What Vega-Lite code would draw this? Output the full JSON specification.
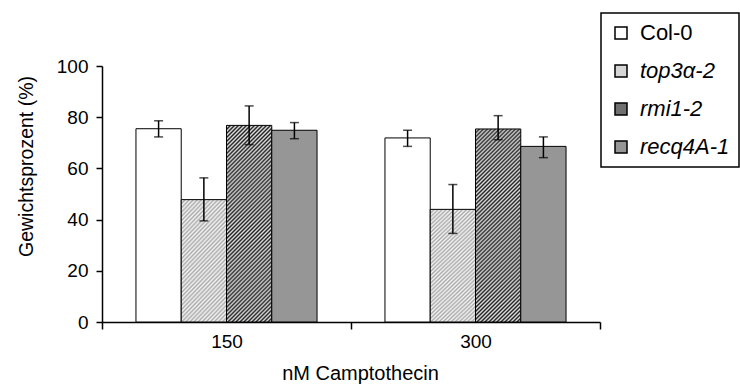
{
  "$schema": "https://vega.github.io/schema/vega-lite/v6.json",
  "autosize": {"type": "none"},
  "padding": {"left": 102, "top": 66, "right": 140, "bottom": 65},
  "width": 498,
  "height": 256,
  "background": "white",
  "config": {
    "font": "Liberation Sans",
    "view": {"stroke": null}
  },
  "data": {
    "values": [
      {"dose": "150", "genotype": "Col-0", "mean": 75.5, "lo": 72.3, "hi": 78.6},
      {"dose": "150", "genotype": "top3α-2", "mean": 47.8, "lo": 39.5, "hi": 56.3},
      {"dose": "150", "genotype": "rmi1-2", "mean": 76.8, "lo": 69.3, "hi": 84.4},
      {"dose": "150", "genotype": "recq4A-1", "mean": 74.9, "lo": 71.6, "hi": 77.9},
      {"dose": "300", "genotype": "Col-0", "mean": 71.9, "lo": 68.6, "hi": 74.9},
      {"dose": "300", "genotype": "top3α-2", "mean": 44.0, "lo": 34.6, "hi": 53.7},
      {"dose": "300", "genotype": "rmi1-2", "mean": 75.4, "lo": 71.2, "hi": 80.6},
      {"dose": "300", "genotype": "recq4A-1", "mean": 68.6, "lo": 64.2, "hi": 72.3}
    ]
  },
  "encoding": {
    "x": {
      "field": "dose", "type": "nominal",
      "scale": {"paddingInner": 0, "paddingOuter": 0},
      "axis": {
        "title": "nM Camptothecin",
        "titleFontSize": 20, "titleFontWeight": "normal", "titleColor": "black",
        "titlePadding": 12, "titleX": 258, "titleAlign": "center",
        "labelAngle": 0, "labelFontSize": 19, "labelColor": "black", "labelPadding": 3,
        "tickBand": "extent", "tickSize": 7, "tickWidth": 1.5, "tickColor": "black",
        "domainColor": "black", "domainWidth": 1.5
      }
    },
    "xOffset": {
      "field": "genotype", "type": "nominal",
      "sort": ["Col-0", "top3α-2", "rmi1-2", "recq4A-1"],
      "scale": {"paddingInner": 0, "paddingOuter": 0.75}
    }
  },
  "layer": [
    {
      "mark": {"type": "bar", "stroke": "black", "strokeWidth": 1},
      "encoding": {
        "y": {
          "field": "mean", "type": "quantitative",
          "scale": {"domain": [0, 100], "nice": false},
          "axis": {
            "title": "Gewichtsprozent (%)",
            "titleFontSize": 19.5, "titleFontWeight": "normal", "titleColor": "black",
            "titleX": -76, "titleY": 100, "titleBaseline": "middle", "titleAngle": -90, "titleAlign": "center",
            "values": [0, 20, 40, 60, 80, 100],
            "labelFontSize": 19, "labelColor": "black", "labelPadding": 8,
            "tickSize": 6, "tickWidth": 1.5, "tickColor": "black",
            "domainColor": "black", "domainWidth": 1.5,
            "grid": false
          }
        },
        "fill": {
          "field": "genotype", "type": "nominal",
          "sort": ["Col-0", "top3α-2", "rmi1-2", "recq4A-1"],
          "scale": {
            "domain": ["Col-0", "top3α-2", "rmi1-2", "recq4A-1"],
            "range": ["#ffffff", "#d6d6d6", "#707070", "#969696"]
          },
          "condition": [
            {
              "test": "datum.genotype === 'rmi1-2'",
              "value": {
                "gradient": "linear", "x1": 0, "y1": 0, "x2": 0.272, "y2": 1.17,
                "stops": [
                  {"offset": 0, "color": "#222"}, {"offset": 0.00833, "color": "#ddd"}, {"offset": 0.01667, "color": "#222"},
                  {"offset": 0.025, "color": "#ddd"}, {"offset": 0.03333, "color": "#222"}, {"offset": 0.04167, "color": "#ddd"},
                  {"offset": 0.05, "color": "#222"}, {"offset": 0.05833, "color": "#ddd"}, {"offset": 0.06667, "color": "#222"},
                  {"offset": 0.075, "color": "#ddd"}, {"offset": 0.08333, "color": "#222"}, {"offset": 0.09167, "color": "#ddd"},
                  {"offset": 0.1, "color": "#222"}, {"offset": 0.10833, "color": "#ddd"}, {"offset": 0.11667, "color": "#222"},
                  {"offset": 0.125, "color": "#ddd"}, {"offset": 0.13333, "color": "#222"}, {"offset": 0.14167, "color": "#ddd"},
                  {"offset": 0.15, "color": "#222"}, {"offset": 0.15833, "color": "#ddd"}, {"offset": 0.16667, "color": "#222"},
                  {"offset": 0.175, "color": "#ddd"}, {"offset": 0.18333, "color": "#222"}, {"offset": 0.19167, "color": "#ddd"},
                  {"offset": 0.2, "color": "#222"}, {"offset": 0.20833, "color": "#ddd"}, {"offset": 0.21667, "color": "#222"},
                  {"offset": 0.225, "color": "#ddd"}, {"offset": 0.23333, "color": "#222"}, {"offset": 0.24167, "color": "#ddd"},
                  {"offset": 0.25, "color": "#222"}, {"offset": 0.25833, "color": "#ddd"}, {"offset": 0.26667, "color": "#222"},
                  {"offset": 0.275, "color": "#ddd"}, {"offset": 0.28333, "color": "#222"}, {"offset": 0.29167, "color": "#ddd"},
                  {"offset": 0.3, "color": "#222"}, {"offset": 0.30833, "color": "#ddd"}, {"offset": 0.31667, "color": "#222"},
                  {"offset": 0.325, "color": "#ddd"}, {"offset": 0.33333, "color": "#222"}, {"offset": 0.34167, "color": "#ddd"},
                  {"offset": 0.35, "color": "#222"}, {"offset": 0.35833, "color": "#ddd"}, {"offset": 0.36667, "color": "#222"},
                  {"offset": 0.375, "color": "#ddd"}, {"offset": 0.38333, "color": "#222"}, {"offset": 0.39167, "color": "#ddd"},
                  {"offset": 0.4, "color": "#222"}, {"offset": 0.40833, "color": "#ddd"}, {"offset": 0.41667, "color": "#222"},
                  {"offset": 0.425, "color": "#ddd"}, {"offset": 0.43333, "color": "#222"}, {"offset": 0.44167, "color": "#ddd"},
                  {"offset": 0.45, "color": "#222"}, {"offset": 0.45833, "color": "#ddd"}, {"offset": 0.46667, "color": "#222"},
                  {"offset": 0.475, "color": "#ddd"}, {"offset": 0.48333, "color": "#222"}, {"offset": 0.49167, "color": "#ddd"},
                  {"offset": 0.5, "color": "#222"}, {"offset": 0.50833, "color": "#ddd"}, {"offset": 0.51667, "color": "#222"},
                  {"offset": 0.525, "color": "#ddd"}, {"offset": 0.53333, "color": "#222"}, {"offset": 0.54167, "color": "#ddd"},
                  {"offset": 0.55, "color": "#222"}, {"offset": 0.55833, "color": "#ddd"}, {"offset": 0.56667, "color": "#222"},
                  {"offset": 0.575, "color": "#ddd"}, {"offset": 0.58333, "color": "#222"}, {"offset": 0.59167, "color": "#ddd"},
                  {"offset": 0.6, "color": "#222"}, {"offset": 0.60833, "color": "#ddd"}, {"offset": 0.61667, "color": "#222"},
                  {"offset": 0.625, "color": "#ddd"}, {"offset": 0.63333, "color": "#222"}, {"offset": 0.64167, "color": "#ddd"},
                  {"offset": 0.65, "color": "#222"}, {"offset": 0.65833, "color": "#ddd"}, {"offset": 0.66667, "color": "#222"},
                  {"offset": 0.675, "color": "#ddd"}, {"offset": 0.68333, "color": "#222"}, {"offset": 0.69167, "color": "#ddd"},
                  {"offset": 0.7, "color": "#222"}, {"offset": 0.70833, "color": "#ddd"}, {"offset": 0.71667, "color": "#222"},
                  {"offset": 0.725, "color": "#ddd"}, {"offset": 0.73333, "color": "#222"}, {"offset": 0.74167, "color": "#ddd"},
                  {"offset": 0.75, "color": "#222"}, {"offset": 0.75833, "color": "#ddd"}, {"offset": 0.76667, "color": "#222"},
                  {"offset": 0.775, "color": "#ddd"}, {"offset": 0.78333, "color": "#222"}, {"offset": 0.79167, "color": "#ddd"},
                  {"offset": 0.8, "color": "#222"}, {"offset": 0.80833, "color": "#ddd"}, {"offset": 0.81667, "color": "#222"},
                  {"offset": 0.825, "color": "#ddd"}, {"offset": 0.83333, "color": "#222"}, {"offset": 0.84167, "color": "#ddd"},
                  {"offset": 0.85, "color": "#222"}, {"offset": 0.85833, "color": "#ddd"}, {"offset": 0.86667, "color": "#222"},
                  {"offset": 0.875, "color": "#ddd"}, {"offset": 0.88333, "color": "#222"}, {"offset": 0.89167, "color": "#ddd"},
                  {"offset": 0.9, "color": "#222"}, {"offset": 0.90833, "color": "#ddd"}, {"offset": 0.91667, "color": "#222"},
                  {"offset": 0.925, "color": "#ddd"}, {"offset": 0.93333, "color": "#222"}, {"offset": 0.94167, "color": "#ddd"},
                  {"offset": 0.95, "color": "#222"}, {"offset": 0.95833, "color": "#ddd"}, {"offset": 0.96667, "color": "#222"},
                  {"offset": 0.975, "color": "#ddd"}, {"offset": 0.98333, "color": "#222"}, {"offset": 0.99167, "color": "#ddd"},
                  {"offset": 1, "color": "#222"}
                ]
              }
            },
            {
              "test": "datum.genotype === 'top3α-2'",
              "value": {
                "gradient": "linear", "x1": 0, "y1": 0, "x2": 0.464, "y2": 1.206,
                "stops": [
                  {"offset": 0, "color": "#aaa"}, {"offset": 0.0125, "color": "#f4f4f4"}, {"offset": 0.025, "color": "#aaa"}, {"offset": 0.0375, "color": "#f4f4f4"},
                  {"offset": 0.05, "color": "#aaa"}, {"offset": 0.0625, "color": "#f4f4f4"}, {"offset": 0.075, "color": "#aaa"}, {"offset": 0.0875, "color": "#f4f4f4"},
                  {"offset": 0.1, "color": "#aaa"}, {"offset": 0.1125, "color": "#f4f4f4"}, {"offset": 0.125, "color": "#aaa"}, {"offset": 0.1375, "color": "#f4f4f4"},
                  {"offset": 0.15, "color": "#aaa"}, {"offset": 0.1625, "color": "#f4f4f4"}, {"offset": 0.175, "color": "#aaa"}, {"offset": 0.1875, "color": "#f4f4f4"},
                  {"offset": 0.2, "color": "#aaa"}, {"offset": 0.2125, "color": "#f4f4f4"}, {"offset": 0.225, "color": "#aaa"}, {"offset": 0.2375, "color": "#f4f4f4"},
                  {"offset": 0.25, "color": "#aaa"}, {"offset": 0.2625, "color": "#f4f4f4"}, {"offset": 0.275, "color": "#aaa"}, {"offset": 0.2875, "color": "#f4f4f4"},
                  {"offset": 0.3, "color": "#aaa"}, {"offset": 0.3125, "color": "#f4f4f4"}, {"offset": 0.325, "color": "#aaa"}, {"offset": 0.3375, "color": "#f4f4f4"},
                  {"offset": 0.35, "color": "#aaa"}, {"offset": 0.3625, "color": "#f4f4f4"}, {"offset": 0.375, "color": "#aaa"}, {"offset": 0.3875, "color": "#f4f4f4"},
                  {"offset": 0.4, "color": "#aaa"}, {"offset": 0.4125, "color": "#f4f4f4"}, {"offset": 0.425, "color": "#aaa"}, {"offset": 0.4375, "color": "#f4f4f4"},
                  {"offset": 0.45, "color": "#aaa"}, {"offset": 0.4625, "color": "#f4f4f4"}, {"offset": 0.475, "color": "#aaa"}, {"offset": 0.4875, "color": "#f4f4f4"},
                  {"offset": 0.5, "color": "#aaa"}, {"offset": 0.5125, "color": "#f4f4f4"}, {"offset": 0.525, "color": "#aaa"}, {"offset": 0.5375, "color": "#f4f4f4"},
                  {"offset": 0.55, "color": "#aaa"}, {"offset": 0.5625, "color": "#f4f4f4"}, {"offset": 0.575, "color": "#aaa"}, {"offset": 0.5875, "color": "#f4f4f4"},
                  {"offset": 0.6, "color": "#aaa"}, {"offset": 0.6125, "color": "#f4f4f4"}, {"offset": 0.625, "color": "#aaa"}, {"offset": 0.6375, "color": "#f4f4f4"},
                  {"offset": 0.65, "color": "#aaa"}, {"offset": 0.6625, "color": "#f4f4f4"}, {"offset": 0.675, "color": "#aaa"}, {"offset": 0.6875, "color": "#f4f4f4"},
                  {"offset": 0.7, "color": "#aaa"}, {"offset": 0.7125, "color": "#f4f4f4"}, {"offset": 0.725, "color": "#aaa"}, {"offset": 0.7375, "color": "#f4f4f4"},
                  {"offset": 0.75, "color": "#aaa"}, {"offset": 0.7625, "color": "#f4f4f4"}, {"offset": 0.775, "color": "#aaa"}, {"offset": 0.7875, "color": "#f4f4f4"},
                  {"offset": 0.8, "color": "#aaa"}, {"offset": 0.8125, "color": "#f4f4f4"}, {"offset": 0.825, "color": "#aaa"}, {"offset": 0.8375, "color": "#f4f4f4"},
                  {"offset": 0.85, "color": "#aaa"}, {"offset": 0.8625, "color": "#f4f4f4"}, {"offset": 0.875, "color": "#aaa"}, {"offset": 0.8875, "color": "#f4f4f4"},
                  {"offset": 0.9, "color": "#aaa"}, {"offset": 0.9125, "color": "#f4f4f4"}, {"offset": 0.925, "color": "#aaa"}, {"offset": 0.9375, "color": "#f4f4f4"},
                  {"offset": 0.95, "color": "#aaa"}, {"offset": 0.9625, "color": "#f4f4f4"}, {"offset": 0.975, "color": "#aaa"}, {"offset": 0.9875, "color": "#f4f4f4"},
                  {"offset": 1, "color": "#aaa"}
                ]
              }
            }
          ],
          "legend": {
            "title": null,
            "orient": "none", "legendX": 499, "legendY": -53,
            "strokeColor": "black", "fillColor": "white",
            "padding": 9,
            "symbolType": "square", "symbolSize": 144,
            "symbolStrokeColor": "black", "symbolStrokeWidth": 1.5,
            "labelFontSize": 22, "labelColor": "black", "labelOffset": 8,
            "rowPadding": 16,
            "encode": {
              "legend": {"update": {"strokeWidth": {"value": 1.5}}},
              "labels": {"update": {"fontStyle": {"signal": "datum.label == 'Col-0' ? 'normal' : 'italic'"}}},
              "symbols": {"update": {"stroke": {"value": "black"}, "strokeWidth": {"value": 1.5}}}
            }
          }
        }
      }
    },
    {
      "mark": {"type": "rule", "color": "black", "strokeWidth": 1.5},
      "encoding": {
        "y": {"field": "lo", "type": "quantitative"},
        "y2": {"field": "hi"}
      }
    },
    {
      "mark": {"type": "tick", "color": "black", "thickness": 1.5, "size": 9, "orient": "horizontal"},
      "encoding": {
        "y": {"field": "lo", "type": "quantitative"}
      }
    },
    {
      "mark": {"type": "tick", "color": "black", "thickness": 1.5, "size": 9, "orient": "horizontal"},
      "encoding": {
        "y": {"field": "hi", "type": "quantitative"}
      }
    }
  ]
}
